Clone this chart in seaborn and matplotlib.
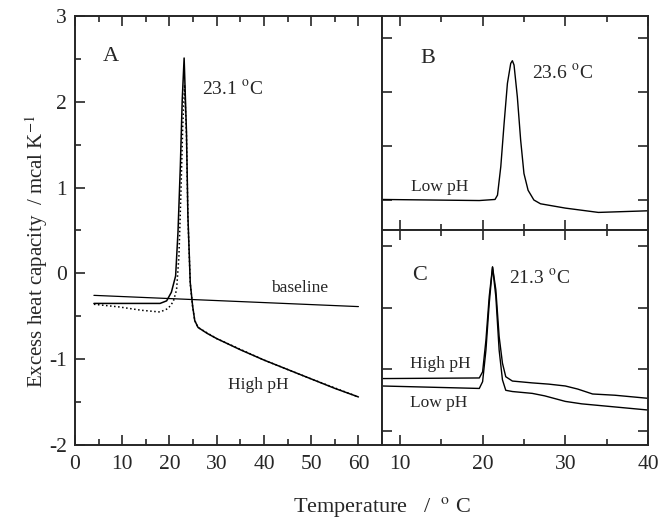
import numpy as np
import pandas as pd
import matplotlib
matplotlib.use('Agg')
import matplotlib.pyplot as plt
from matplotlib.ticker import MultipleLocator
import seaborn as sns

# panel A: high pH scan (solid), second scan (dotted), baseline
a_temp = [4, 10, 18, 19.4, 20.4, 21.3, 21.8, 22.3, 22.7, 23.1, 23.6, 23.9, 24.4, 24.9, 25.35, 26.05, 28, 30, 35, 40, 45, 50, 55, 60]
a_high = [-0.35, -0.35, -0.35, -0.32, -0.22, -0.03, 0.48, 1.25, 2.02, 2.51, 1.64, 0.67, -0.11, -0.38, -0.55, -0.63, -0.70, -0.76, -0.89, -1.01, -1.12, -1.23, -1.34, -1.44]
a_dot_temp = [4, 9.2, 14.1, 18, 19.7, 20.8, 21.5, 22.0, 22.4, 22.8, 23.2, 23.6, 23.9, 24.4, 24.9, 25.35, 26.05, 30, 40, 50, 60]
a_dot = [-0.36, -0.39, -0.43, -0.45, -0.41, -0.33, -0.19, 0.2, 0.9, 1.7, 2.2, 1.6, 0.65, -0.12, -0.39, -0.55, -0.63, -0.76, -1.01, -1.23, -1.44]
base_temp = [4, 60]
base_val = [-0.256, -0.387]

# panel B: low pH
b_temp = [7.8, 19.6, 21.5, 21.8, 22.2, 22.6, 23.0, 23.4, 23.6, 23.8, 24.2, 24.6, 25.0, 25.5, 26.2, 27, 30, 34, 40]
b_low = [0.01, -0.01, 0.01, 0.09, 0.62, 1.42, 2.16, 2.53, 2.58, 2.5, 1.91, 1.11, 0.49, 0.18, 0.0, -0.07, -0.15, -0.23, -0.2]

# panel C: high and low pH
c_temp = [7.8, 19.6, 20.0, 20.4, 20.8, 21.2, 21.6, 22.0, 22.4, 22.8, 23.6, 26, 28, 30, 31.5, 33.3, 36, 40]
c_high = [0.85, 0.86, 0.96, 1.47, 2.18, 2.66, 2.29, 1.53, 1.10, 0.88, 0.81, 0.78, 0.76, 0.73, 0.68, 0.60, 0.58, 0.53]
c_low_temp = [7.8, 19.6, 20.0, 20.4, 20.8, 21.2, 21.6, 22.0, 22.4, 22.8, 23.6, 26, 27.5, 30, 32, 36, 40]
c_low = [0.73, 0.69, 0.80, 1.31, 2.07, 2.66, 2.18, 1.31, 0.83, 0.66, 0.64, 0.61, 0.57, 0.48, 0.44, 0.39, 0.34]

sns.set_style('ticks')
plt.rcParams['font.family'] = ['Liberation Serif', 'DejaVu Serif']
plt.rcParams['mathtext.fontset'] = 'stix'
plt.rcParams['axes.linewidth'] = 1.4
plt.rcParams['axes.unicode_minus'] = False

fig = plt.figure(figsize=(6.58, 5.19), dpi=100)
axA = fig.add_axes([0.114, 0.1426, 0.4666, 0.8266])
axB = fig.add_axes([0.5805, 0.5568, 0.4043, 0.4123])
axC = fig.add_axes([0.5805, 0.1426, 0.4043, 0.4143])

sns.lineplot(x=a_temp, y=a_high, ax=axA, color='black', lw=1.1, sort=False)
sns.lineplot(x=a_dot_temp, y=a_dot, ax=axA, color='black', lw=1.1, linestyle=':', sort=False)
sns.lineplot(x=base_temp, y=base_val, ax=axA, color='black', lw=0.9, sort=False)
sns.lineplot(x=b_temp, y=b_low, ax=axB, color='black', lw=1.0, sort=False)
sns.lineplot(x=c_temp, y=c_high, ax=axC, color='black', lw=1.0, sort=False)
sns.lineplot(x=c_low_temp, y=c_low, ax=axC, color='black', lw=1.0, sort=False)

axA.set_xlim(0, 65)
axA.set_ylim(-2, 3)
axA.xaxis.set_major_locator(MultipleLocator(10))
axA.xaxis.set_minor_locator(MultipleLocator(5))
axA.yaxis.set_major_locator(MultipleLocator(1))
axA.yaxis.set_minor_locator(MultipleLocator(0.5))
axA.set_xticks([0, 10, 20, 30, 40, 50, 60])
axA.tick_params(which='both', direction='in', top=True, right=False, labelsize=15.5, width=1.2)
axA.tick_params(which='major', length=7)
axA.tick_params(which='minor', length=4)
axA.tick_params(axis='x', pad=7)
axA.tick_params(axis='y', pad=6)

for ax in (axB, axC):
    ax.set_xlim(7.83, 40)
    ax.xaxis.set_major_locator(MultipleLocator(10))
    ax.xaxis.set_minor_locator(MultipleLocator(5))
    ax.yaxis.set_major_locator(MultipleLocator(1))
    ax.tick_params(which='both', direction='in', top=True, right=True, left=True, labelsize=15.5, width=1.2)
    ax.tick_params(which='major', length=7)
    ax.tick_params(which='minor', length=4)
    ax.tick_params(axis='x', pad=7)
    ax.set_yticklabels([])

axB.set_ylim(-0.556, 3.407)
axB.set_xticklabels([])
axC.set_ylim(-0.227, 3.26)

for ax in (axA, axB, axC):
    for s in ax.spines.values():
        s.set_visible(True)
        s.set_linewidth(1.4)
    ax.set_xlabel('')
    ax.set_ylabel('')

axA.text(5.9, 2.47, 'A', fontsize=16)
axA.text(26.8, 2.09, '23.1 $^{\\mathrm{o}}$C', fontsize=14)
axA.text(41.6, -0.22, 'baseline', fontsize=12.5)
axA.text(32.4, -1.35, 'High pH', fontsize=12.5)

axB.text(12.5, 2.54, 'B', fontsize=16)
axB.text(26.0, 2.25, '23.6 $^{\\mathrm{o}}$C', fontsize=14)
axB.text(11.4, 0.17, 'Low pH', fontsize=12.5)

axC.text(11.5, 2.45, 'C', fontsize=16)
axC.text(23.25, 2.4, '21.3 $^{\\mathrm{o}}$C', fontsize=14)
axC.text(11.2, 1.02, 'High pH', fontsize=12.5)
axC.text(11.2, 0.39, 'Low pH', fontsize=12.5)

fig.text(0.056, 0.516, 'Excess heat capacity  / mcal K$^{\\mathrm{-1}}$', rotation=90,
         ha='center', va='center', fontsize=15)
fig.text(0.581, 0.024, 'Temperature   /  $^{\\mathrm{o}}$ C', ha='center', va='center', fontsize=16)

plt.savefig('out.png', dpi=100)
